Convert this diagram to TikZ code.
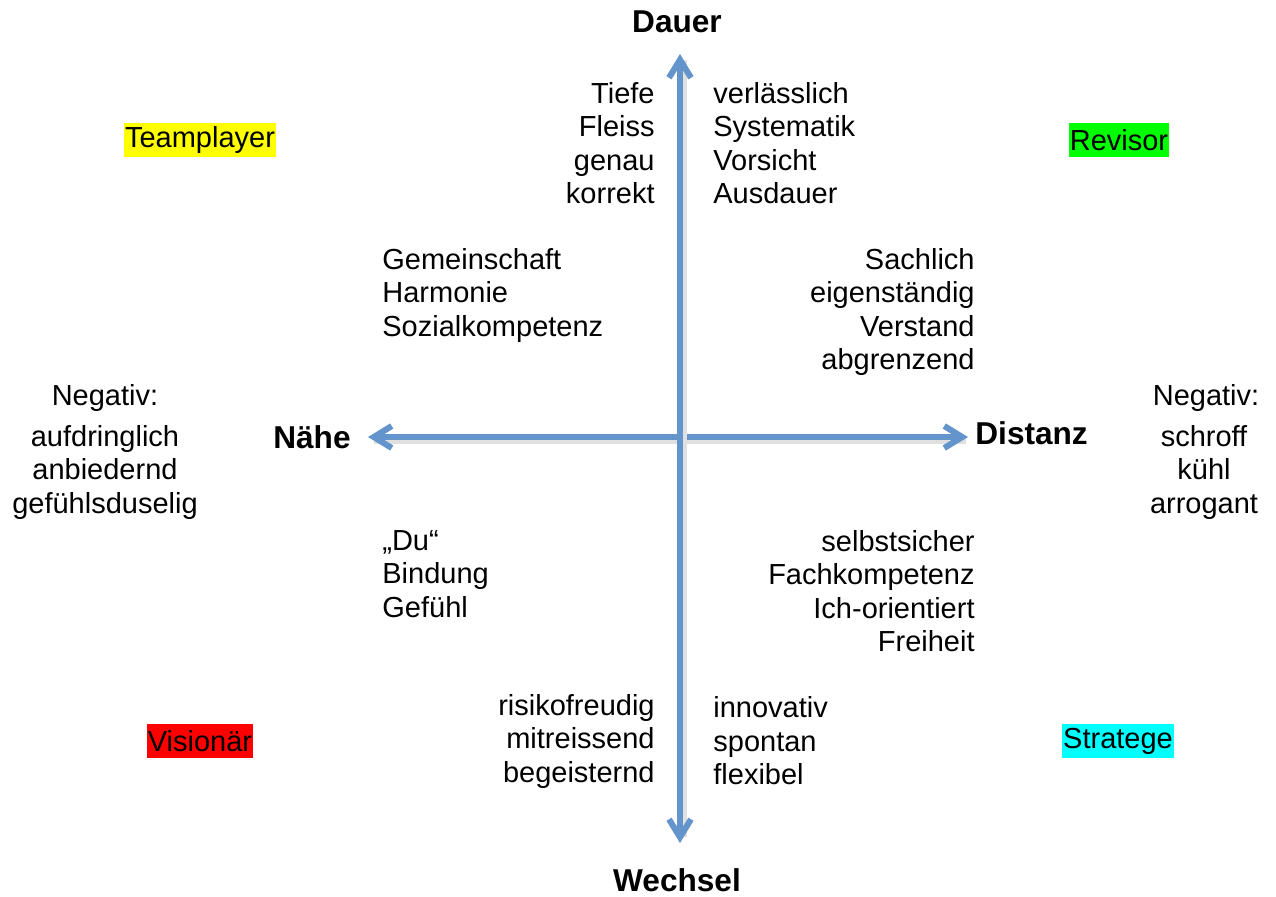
\documentclass[tikz,border=0pt]{standalone}
\usepackage{fontspec}
\setmainfont{Liberation Sans}
\usetikzlibrary{positioning,arrows.meta}
\definecolor{axisblue}{RGB}{99,148,204}
\definecolor{teamyellow}{RGB}{255,255,0}
\definecolor{revgreen}{RGB}{0,255,0}
\definecolor{visred}{RGB}{255,0,0}
\definecolor{stratcyan}{RGB}{0,255,255}

\begin{document}
\begin{tikzpicture}[x=0.5pt, y=-0.5pt,
    word/.style = {inner sep=0pt, font=\fontsize{14.5}{16.75}\selectfont},
    pole/.style = {inner sep=0pt, font=\fontsize{15.8}{18}\selectfont\bfseries},
    type/.style = {word, inner xsep=0.5pt, minimum height=17pt},
    axis/.style = {draw=axisblue, line width=3pt, {Straight Barb[length=9pt,width=11pt]}-{Straight Barb[length=9pt,width=11pt]}},
    shade/.style = {draw=black!12, line width=3pt}]
    \useasboundingbox (0,0) rectangle (1276,896);
    % axis end points
    \coordinate (w) at (680,843);
    \coordinate (d) at (680,54);
    \coordinate (n) at (368,437);
    \coordinate (s) at (968,437);
    \draw[shade] ([shift={(6,4)}]n) -- ([shift={(-2,4)}]s);
    \draw[axis] (n) -- (s);
    \draw[shade] ([shift={(4,-6)}]w) -- ([shift={(4,6)}]d);
    \draw[axis] (w) -- (d);
    % poles
    \node[pole] (dauer) at (677,22) {Dauer};
    \node[pole] (wechsel) at (677,880) {Wechsel};
    \node[pole, anchor=east] (naehe) at (351,437) {Nähe};
    \node[pole, anchor=west] (distanz) at (975,433) {Distanz};
    % types
    \node[type, fill=teamyellow] (team) at (200,140) {Teamplayer};
    \node[type, fill=revgreen] (rev) at (1119,140) {Revisor};
    \node[type, fill=visred] (vis) at (200,741) {Visionär};
    \node[type, fill=stratcyan] (strat) at (1118,741) {Stratege};
    % words along the axes
    \node[word, align=right, anchor=east] (tiefe) at (655,143) {Tiefe\\Fleiss\\genau\\korrekt};
    \node[word, align=left, anchor=west] (verl) at (713,143) {verlässlich\\Systematik\\Vorsicht\\Ausdauer};
    \node[word, align=right, anchor=east] (risiko) at (655,741) {risikofreudig\\mitreissend\\begeisternd};
    \node[word, align=left, anchor=west] (innov) at (713,741) {innovativ\\spontan\\flexibel};
    % words in the quadrants
    \node[word, align=left, anchor=west] (gemein) at (382,295) {Gemeinschaft\\Harmonie\\Sozialkompetenz};
    \node[word, align=right, anchor=east] (sach) at (975,312) {Sachlich\\eigenständig\\Verstand\\abgrenzend};
    \node[word, align=left, anchor=west] (du) at (382,574) {„Du“\\Bindung\\Gefühl};
    \node[word, align=right, anchor=east] (selbst) at (975,591) {selbstsicher\\Fachkompetenz\\Ich-orientiert\\Freiheit};
    % negative sides
    \node[word] (negl) at (105,398) {Negativ:};
    \node[word, align=center] (aufd) at (105,472) {aufdringlich\\anbiedernd\\gefühlsduselig};
    \node[word] (negr) at (1206,398) {Negativ:};
    \node[word, align=center] (schr) at (1204,472) {schroff\\kühl\\arrogant};
\end{tikzpicture}
\end{document}
